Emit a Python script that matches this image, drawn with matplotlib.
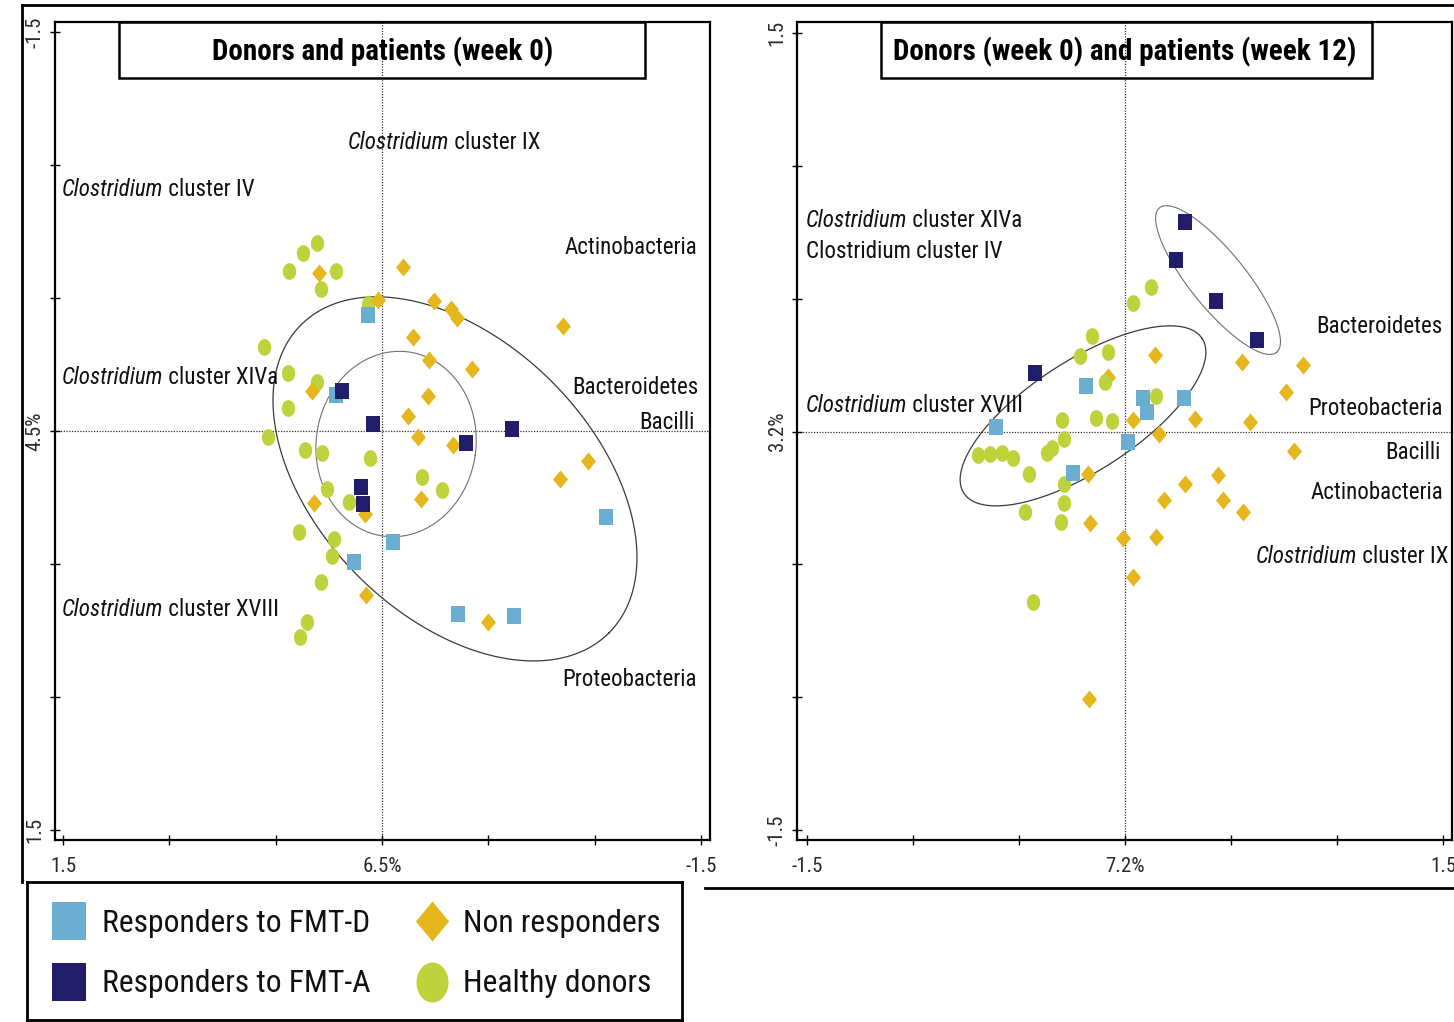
import numpy as np
import matplotlib
matplotlib.use("Agg")
import matplotlib.pyplot as plt
from matplotlib import font_manager as fm
from matplotlib.lines import Line2D
from matplotlib.patches import Rectangle


def pick_font():
    # the source uses a narrow Arial-like face; take the closest one installed
    entries = {}
    for f in fm.fontManager.ttflist:
        entries.setdefault(f.name, set()).add(str(f.stretch))
    for name, k in [("Liberation Sans Narrow", 1.0), ("Arial Narrow", 1.0), ("Roboto Condensed", 1.0)]:
        if name in entries:
            return name, "normal", k
    for name, k in [("Noto Sans", 0.95), ("Open Sans", 0.92), ("DejaVu Sans", 0.88)]:
        if name in entries and ("condensed" in entries[name] or "semi-condensed" in entries[name]):
            st = "condensed" if "condensed" in entries[name] else "semi-condensed"
            return name, st, k
    return "Liberation Sans", "normal", 0.86


FONT, STRETCH, K = pick_font()
plt.rcParams["font.family"] = [FONT, "DejaVu Sans"]
plt.rcParams["font.stretch"] = STRETCH

# ---- data: PCA scores, week 0 (left panel) ----
w0_fmtd_x = [0.067, 0.218, -0.050, 0.132, -1.052, -0.356, -0.621]
w0_fmtd_y = [-0.436, -0.135, 0.416, 0.491, 0.322, 0.688, 0.695]
w0_fmta_x = [0.187, 0.044, -0.610, -0.395, 0.099, 0.091]
w0_fmta_y = [-0.152, -0.026, -0.006, 0.044, 0.212, 0.274]
w0_non_x = [0.295, -0.100, 0.017, -0.246, -0.324, -0.351, -0.853, -0.144, -0.222, -0.422, 0.331,
            -0.218, -0.124, -0.171, -0.335, -0.970, -0.837, -0.183, 0.318, 0.080, 0.077, -0.500]
w0_non_y = [-0.593, -0.618, -0.493, -0.489, -0.458, -0.424, -0.395, -0.352, -0.267, -0.232, -0.152,
            -0.132, -0.056, 0.024, 0.053, 0.112, 0.182, 0.257, 0.272, 0.312, 0.616, 0.717]
w0_hd_x = [0.306, 0.373, 0.436, 0.216, 0.287, 0.064, 0.555, 0.441, 0.307, 0.443, 0.535, 0.362,
           0.281, 0.056, -0.187, -0.281, 0.257, 0.154, 0.392, 0.224, 0.234, 0.288, 0.354, 0.386]
w0_hd_y = [-0.707, -0.668, -0.602, -0.603, -0.533, -0.477, -0.317, -0.217, -0.185, -0.085, 0.024, 0.071,
           0.081, 0.103, 0.172, 0.222, 0.219, 0.266, 0.378, 0.407, 0.470, 0.566, 0.717, 0.773]

# ---- data: donors week 0 / patients week 12 (right panel) ----
w12_fmtd_x = [-0.184, 0.086, 0.102, 0.280, -0.608, 0.013, -0.244]
w12_fmtd_y = [0.173, 0.125, 0.075, 0.125, 0.018, -0.040, -0.155]
w12_fmta_x = [0.283, 0.241, 0.429, 0.621, -0.425]
w12_fmta_y = [0.788, 0.646, 0.492, 0.345, 0.219]
w12_non_x = [0.142, 0.550, 0.841, -0.082, 0.759, 0.330, 0.590, 0.036, 0.160, 0.797, 0.440,
             0.283, -0.173, 0.461, 0.555, 0.185, -0.165, -0.008, 0.146, 0.039, -0.168]
w12_non_y = [0.288, 0.263, 0.250, 0.206, 0.150, 0.046, 0.037, 0.043, -0.010, -0.072, -0.164,
             -0.199, -0.160, -0.258, -0.302, -0.258, -0.343, -0.402, -0.396, -0.549, -1.008]
w12_hd_x = [0.123, 0.036, -0.154, -0.212, -0.082, -0.093, 0.146, -0.299, -0.138, -0.060, -0.286, -0.346,
            -0.369, -0.692, -0.637, -0.582, -0.530, -0.453, -0.288, -0.288, -0.472, -0.302, -0.433]
w12_hd_y = [0.543, 0.483, 0.360, 0.285, 0.298, 0.188, 0.135, 0.043, 0.050, 0.041, -0.029, -0.061,
            -0.082, -0.088, -0.086, -0.082, -0.098, -0.160, -0.199, -0.270, -0.304, -0.339, -0.643]

# ellipses: centre, first and second conjugate half-axis (data units)
w0_ell_outer = [-0.343, 0.180, -0.724, 0.579, 0.456, 0.365]
w0_ell_inner = [-0.066, 0.049, -0.372, 0.042, 0.061, 0.346]
w12_ell_main = [-0.198, 0.059, 0.562, 0.291, 0.1415, -0.1735]
w12_ell_fmta = [0.439, 0.570, 0.276, -0.272, -0.1026, -0.0663]

ticks = [-1.5, -1.0, -0.5, 0.0, 0.5, 1.0, 1.5]
w0_xticklabels = ["-1.5", "", "", "6.5%", "", "", "1.5"]
w0_yticklabels = ["-1.5", "", "", "4.5%", "", "", "1.5"]
w12_xticklabels = ["-1.5", "", "", "7.2%", "", "", "1.5"]
w12_yticklabels = ["-1.5", "", "", "3.2%", "", "", "1.5"]

groups = ["Responders to FMT-D", "Responders to FMT-A", "Non responders", "Healthy donors"]
colors = {"Responders to FMT-D": "#6cadd2", "Responders to FMT-A": "#211d6b",
          "Non responders": "#e6b71c", "Healthy donors": "#bed23c"}

# slightly tall markers, as in the source image
t = np.linspace(0, 2 * np.pi, 60)
m_circle = list(zip(0.8 * np.cos(t), np.sin(t)))
m_square = [(-0.9, -1), (0.9, -1), (0.9, 1), (-0.9, 1), (-0.9, -1)]
m_diamond = [(0, 1), (0.83, 0), (0, -1), (-0.83, 0), (0, 1)]
markers = {"Responders to FMT-D": (m_square, 11), "Responders to FMT-A": (m_square, 11),
           "Non responders": (m_diamond, 13), "Healthy donors": (m_circle, 12)}

W, H = 1454, 1022
fig = plt.figure(figsize=(W / 100, H / 100), dpi=100)


def px_axes(x0, y0, x1, y1):
    return fig.add_axes([x0 / W, 1 - y1 / H, (x1 - x0) / W, (y1 - y0) / H])


def draw_ellipse(ax, e, color, lw):
    tt = np.linspace(0, 2 * np.pi, 200)
    ex = e[0] + e[2] * np.cos(tt) + e[4] * np.sin(tt)
    ey = e[1] + e[3] * np.cos(tt) + e[5] * np.sin(tt)
    ax.plot(ex, ey, color=color, lw=lw, zorder=2)


def add_label(ax, x, y, italic, rest, ha="left"):
    kw = dict(fontsize=16.6 * K, color="#111111")
    if italic is None:
        ax.text(x, y, rest, transform=ax.transAxes, ha=ha, va="center", **kw)
    elif ha == "left":
        t1 = ax.text(x, y, italic, transform=ax.transAxes, ha="left", va="center", style="italic", **kw)
        ax.annotate(rest, xy=(1, 0), xycoords=t1, ha="left", va="bottom", **kw)
    else:
        t2 = ax.text(x, y, rest, transform=ax.transAxes, ha="right", va="center", **kw)
        ax.annotate(italic, xy=(0, 0), xycoords=t2, ha="right", va="bottom", style="italic", **kw)


def setup(ax, xlim, ylim, xlabels, ylabels, title, box):
    ax.set_xlim(*xlim)
    ax.set_ylim(*ylim)
    ax.set_xticks(ticks)
    ax.set_yticks(ticks)
    ax.set_xticklabels(xlabels)
    ax.set_yticklabels(ylabels, rotation=90, va="center")
    ax.tick_params(direction="inout", length=7, width=1, labelsize=15 * K, labelcolor="#2a2a2a")
    ax.tick_params(axis="x", pad=9)
    ax.tick_params(axis="y", pad=4)
    for s in ax.spines.values():
        s.set_linewidth(1.6)
    ax.axhline(0, color="#333333", lw=0.9, ls=(0, (1, 1.2)), zorder=1)
    ax.axvline(0, color="#333333", lw=0.9, ls=(0, (1, 1.2)), zorder=1)
    ax.add_patch(Rectangle((box[0], box[1]), box[2] - box[0], 1 - box[1], transform=ax.transAxes,
                           fill=False, lw=1.8, ec="black", clip_on=False, zorder=5))
    ax.text(0.5, 0.963, title, transform=ax.transAxes, ha="center", va="center",
            fontsize=21 * K, fontweight="bold", zorder=6)


def scatter_groups(ax, data):
    for g, (xs, ys) in data:
        m, ms = markers[g]
        ax.plot(xs, ys, ls="none", marker=m, ms=ms, mew=0, color=colors[g], zorder=3)


# ---- left panel ----
ax1 = px_axes(55, 22, 710, 840)
setup(ax1, (1.5376, -1.542), (1.5376, -1.5376), w0_xticklabels, w0_yticklabels,
      "Donors and patients (week 0)", (0.0977, 0.9315, 0.9008))
draw_ellipse(ax1, w0_ell_outer, "#3a3a3a", 0.9)
draw_ellipse(ax1, w0_ell_inner, "#707070", 0.8)
scatter_groups(ax1, [("Healthy donors", (w0_hd_x, w0_hd_y)),
                     ("Non responders", (w0_non_x, w0_non_y)),
                     ("Responders to FMT-D", (w0_fmtd_x, w0_fmtd_y)),
                     ("Responders to FMT-A", (w0_fmta_x, w0_fmta_y))])
add_label(ax1, 0.447, 0.853, "Clostridium", " cluster IX")
add_label(ax1, 0.0107, 0.795, "Clostridium", " cluster IV")
add_label(ax1, 0.980, 0.724, None, "Actinobacteria", "right")
add_label(ax1, 0.0107, 0.565, "Clostridium", " cluster XIVa")
add_label(ax1, 0.982, 0.553, None, "Bacteroidetes", "right")
add_label(ax1, 0.977, 0.511, None, "Bacilli", "right")
add_label(ax1, 0.0107, 0.282, "Clostridium", " cluster XVIII")
add_label(ax1, 0.980, 0.196, None, "Proteobacteria", "right")

# ---- right panel ----
ax2 = px_axes(797, 22, 1452, 840)
setup(ax2, (-1.547, 1.5425), (-1.537, 1.541), w12_xticklabels, w12_yticklabels,
      "Donors (week 0) and patients (week 12)", (0.128, 0.9315, 0.878))
draw_ellipse(ax2, w12_ell_main, "#3a3a3a", 0.9)
draw_ellipse(ax2, w12_ell_fmta, "#707070", 0.8)
scatter_groups(ax2, [("Non responders", (w12_non_x, w12_non_y)),
                     ("Healthy donors", (w12_hd_x, w12_hd_y)),
                     ("Responders to FMT-D", (w12_fmtd_x, w12_fmtd_y)),
                     ("Responders to FMT-A", (w12_fmta_x, w12_fmta_y))])
add_label(ax2, 0.0137, 0.757, "Clostridium", " cluster XIVa")
add_label(ax2, 0.0137, 0.719, None, "Clostridium cluster IV")
add_label(ax2, 0.986, 0.628, None, "Bacteroidetes", "right")
add_label(ax2, 0.0137, 0.531, "Clostridium", " cluster XVIII")
add_label(ax2, 0.986, 0.528, None, "Proteobacteria", "right")
add_label(ax2, 0.982, 0.474, None, "Bacilli", "right")
add_label(ax2, 0.986, 0.425, None, "Actinobacteria", "right")
add_label(ax2, 0.994, 0.347, "Clostridium", " cluster IX", "right")

# ---- outer frame lines ----
for xs, ys in [((22, 1454), (5, 5)), ((22, 22), (5, 882)), ((705, 1454), (888, 888))]:
    fig.add_artist(Line2D([x / W for x in xs], [1 - y / H for y in ys],
                          transform=fig.transFigure, color="black", lw=2))

# ---- legend box ----
lax = px_axes(27, 882, 682, 1020)
lax.set_xlim(0, 655)
lax.set_ylim(138, 0)
lax.set_xticks([])
lax.set_yticks([])
for s in lax.spines.values():
    s.set_linewidth(2)
leg_pos = [(42, 39, 75), (42, 100, 75), (405, 39, 436), (405, 100, 436)]
leg_ms = {"Responders to FMT-D": 27.4, "Responders to FMT-A": 27.4,
          "Non responders": 28.8, "Healthy donors": 28.8}
for g, (mx, my, tx) in zip(groups, leg_pos):
    lax.plot([mx], [my], ls="none", marker=markers[g][0], ms=leg_ms[g], mew=0, color=colors[g])
    lax.text(tx, my + 2, g, ha="left", va="center", fontsize=22.8 * K, color="#111111")

fig.savefig("out.png", dpi=100)
